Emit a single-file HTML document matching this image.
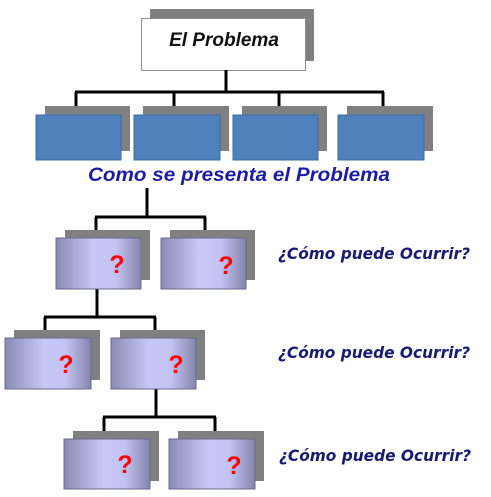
<!DOCTYPE html>
<html><head><meta charset="utf-8"><style>html,body{margin:0;padding:0;background:#fff}svg{display:block}</style></head>
<body>
<svg width="491" height="497" viewBox="0 0 491 497" xmlns="http://www.w3.org/2000/svg">
<defs>
<linearGradient id="g" x1="0" y1="0" x2="1" y2="0">
<stop offset="0" stop-color="#8a8ab4"/>
<stop offset="0.45" stop-color="#c8c8f8"/>
<stop offset="0.7" stop-color="#c4c4f4"/>
<stop offset="1" stop-color="#8484ac"/>
</linearGradient>
</defs>
<rect x="150" y="9" width="164" height="52" fill="#808080"/>
<rect x="141.5" y="18.5" width="164" height="52" fill="#fff" stroke="#909090"/>
<text x="224" y="46" text-anchor="middle" font-family="Liberation Sans, sans-serif" font-weight="bold" font-style="italic" font-size="19" fill="#111">El Problema</text>
<g stroke="#000" stroke-width="3" fill="none">
<path d="M226 70V92M75 92H384M76 92V115M174 92V115M279 92V115M383 92V115"/>
<path d="M147 188V217M95 217H206M96 217V238M205 217V238"/>
<path d="M97 289V317M44 317H156M45 317V338M155 317V338"/>
<path d="M156 389V417M103 417H216M104 417V440M215 417V440"/>
</g>
<g fill="#808080">
<rect x="45" y="106" width="85" height="45"/><rect x="143" y="106" width="86" height="45"/><rect x="242" y="106" width="85" height="45"/><rect x="347" y="106" width="86" height="45"/>
</g>
<g fill="#4f81bd" stroke="#3f6a9e">
<rect x="36" y="115" width="85" height="45"/><rect x="134" y="115" width="86" height="45"/><rect x="233" y="115" width="85" height="45"/><rect x="338" y="115" width="86" height="45"/>
</g>
<text x="239" y="181" text-anchor="middle" textLength="302" lengthAdjust="spacingAndGlyphs" font-family="Liberation Sans, sans-serif" font-weight="bold" font-style="italic" font-size="19" fill="#1c1ca0">Como se presenta el Problema</text>
<g fill="#808080">
<rect x="65" y="230" width="85" height="50"/><rect x="170" y="230" width="85" height="50"/>
<rect x="14" y="330" width="86" height="50"/><rect x="120" y="330" width="85" height="50"/>
<rect x="73" y="431" width="86" height="50"/><rect x="178" y="431" width="86" height="50"/>
</g>
<g fill="url(#g)" stroke="#6a6a8c">
<rect x="56" y="238" width="85" height="51"/><rect x="161" y="238" width="85" height="51"/>
<rect x="5" y="338" width="86" height="51"/><rect x="111" y="338" width="85" height="51"/>
<rect x="64" y="439" width="86" height="50"/><rect x="169" y="439" width="86" height="50"/>
</g>
<g font-family="Liberation Sans, sans-serif" font-weight="bold" font-size="25" fill="#ff0000" text-anchor="middle">
<text x="117" y="273">?</text><text x="226" y="274">?</text>
<text x="66" y="373">?</text><text x="176" y="373">?</text>
<text x="125" y="473">?</text><text x="234" y="474">?</text>
</g>
<g font-family="DejaVu Sans, sans-serif" font-weight="bold" font-style="italic" font-size="16" fill="#1a1a70">
<text x="278" y="259" textLength="192" lengthAdjust="spacingAndGlyphs">¿Cómo puede Ocurrir?</text>
<text x="278" y="358" textLength="192" lengthAdjust="spacingAndGlyphs">¿Cómo puede Ocurrir?</text>
<text x="279" y="461" textLength="192" lengthAdjust="spacingAndGlyphs">¿Cómo puede Ocurrir?</text>
</g>
</svg>
</body></html>
